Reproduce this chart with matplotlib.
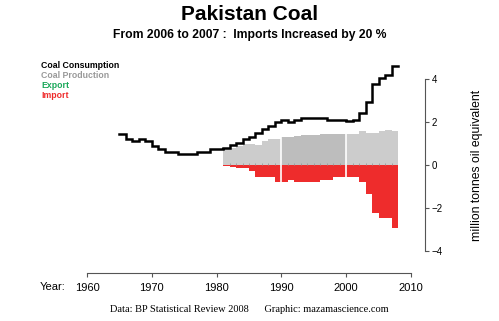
import matplotlib
matplotlib.use("Agg")
import matplotlib.pyplot as plt
import numpy as np

plt.rcParams['font.family'] = ['Liberation Sans', 'DejaVu Sans']

title = "Pakistan Coal"
subtitle = "From 2006 to 2007 :  Imports Increased by 20 %"
caption = "Data: BP Statistical Review 2008      Graphic: mazamascience.com"
ylabel = "million tonnes oil equivalent"
legend_labels = ["Coal Consumption", "Coal Production", "Export", "Import"]
legend_colors = ["black", "#999999", "#1aa85a", "#ee2c2c"]

cons_years = list(range(1965, 2008))
consumption = [1.43, 1.22, 1.12, 1.21, 1.13, 0.90, 0.73, 0.62, 0.62, 0.51,
               0.51, 0.51, 0.62, 0.62, 0.73, 0.73, 0.82, 0.93, 1.04, 1.22,
               1.32, 1.50, 1.69, 1.81, 2.02, 2.12, 2.02, 2.12, 2.22, 2.22,
               2.22, 2.22, 2.12, 2.12, 2.12, 2.05, 2.12, 2.43, 2.92, 3.80,
               4.06, 4.22, 4.62]

bar_years = list(range(1981, 2008))
production = [0.73, 0.80, 0.88, 0.98, 0.98, 0.92, 1.12, 1.20, 1.22, 1.32,
              1.32, 1.36, 1.41, 1.41, 1.41, 1.47, 1.47, 1.43, 1.47, 1.47,
              1.47, 1.58, 1.52, 1.52, 1.58, 1.66, 1.58]
imports = [-0.06, -0.08, -0.15, -0.15, -0.26, -0.57, -0.57, -0.57, -0.78, -0.78,
           -0.67, -0.78, -0.78, -0.78, -0.78, -0.67, -0.67, -0.57, -0.57, -0.57,
           -0.57, -0.78, -1.35, -2.25, -2.48, -2.48, -2.95]

xticks = [1960, 1970, 1980, 1990, 2000, 2010]
yticks = [-4, -2, 0, 2, 4]

W, H = 499, 321
PX = 72 / 100  # points per pixel
fig = plt.figure(figsize=(W / 100, H / 100), dpi=100)
ax = fig.add_axes([87 / W, 70 / H, 324 / W, 171.7 / H])
ax.set_xlim(1960, 2010)
ax.set_ylim(-4, 4)

by = np.array(bar_years)
prod = np.array(production)
imp = np.array(imports)
prod_colors = ['#bdbdbd' if 1990 <= y < 2000 else '#cccccc' for y in bar_years]
ax.bar(by, prod, width=1, align='edge', color=prod_colors, linewidth=0)
ax.bar(by, imp, width=1, align='edge', color='#ee2c2c', linewidth=0)

# small year ticks on the zero line
ax.vlines(by[1:], 0, 0.12, color='#999999', lw=0.6)
# decade separators
for d in (1990, 2000):
    i = bar_years.index(d)
    ax.vlines(d, imp[i], prod[i], color='white', lw=1.2)

cy = cons_years + [cons_years[-1] + 1]
cv = consumption + [consumption[-1]]
ax.step(cy, cv, where='post', color='black', lw=1.8, solid_joinstyle='miter',
        clip_on=False)

for s in ('top', 'left'):
    ax.spines[s].set_visible(False)
ax.spines['right'].set_position(('outward', 14 * PX))
ax.spines['right'].set_bounds(-4, 4)
ax.spines['bottom'].set_position(('outward', 22 * PX))
ax.spines['bottom'].set_bounds(1960, 2010)
for s in ('right', 'bottom'):
    ax.spines[s].set_color('#555555')
    ax.spines[s].set_linewidth(0.8)
ax.yaxis.tick_right()
ax.set_yticks(yticks)
ax.set_yticklabels([str(v).replace('-', '\u2212') for v in yticks])
ax.set_xticks(xticks)
ax.tick_params(axis='y', length=3, width=0.8, color='#555555', labelsize=7, pad=2)
ax.tick_params(axis='x', length=3, width=0.8, color='#555555', labelsize=8, pad=4)
ax.yaxis.set_label_position('right')
ax.set_ylabel(ylabel, fontsize=8.8, labelpad=20)

fig.text(65 / W, 1 - 287 / H, "Year:", fontsize=8, ha='right', va='center')

fig.text(0.5, 1 - 14 / H, title, fontsize=15, fontweight='bold', ha='center', va='center')
fig.text(0.5, 1 - 35 / H, subtitle, fontsize=8.7, fontweight='bold', ha='center', va='center')
fig.text(0.5, 1 - 309 / H, caption, fontsize=7.5, ha='center', va='center',
         family=['Liberation Serif', 'DejaVu Serif'])

for i, (lab, col) in enumerate(zip(legend_labels, legend_colors)):
    fig.text(41 / W, 1 - (66 + 9.7 * i) / H, lab, fontsize=6.3, fontweight='bold',
             color=col, ha='left', va='center')

fig.savefig("out.png", dpi=100)
